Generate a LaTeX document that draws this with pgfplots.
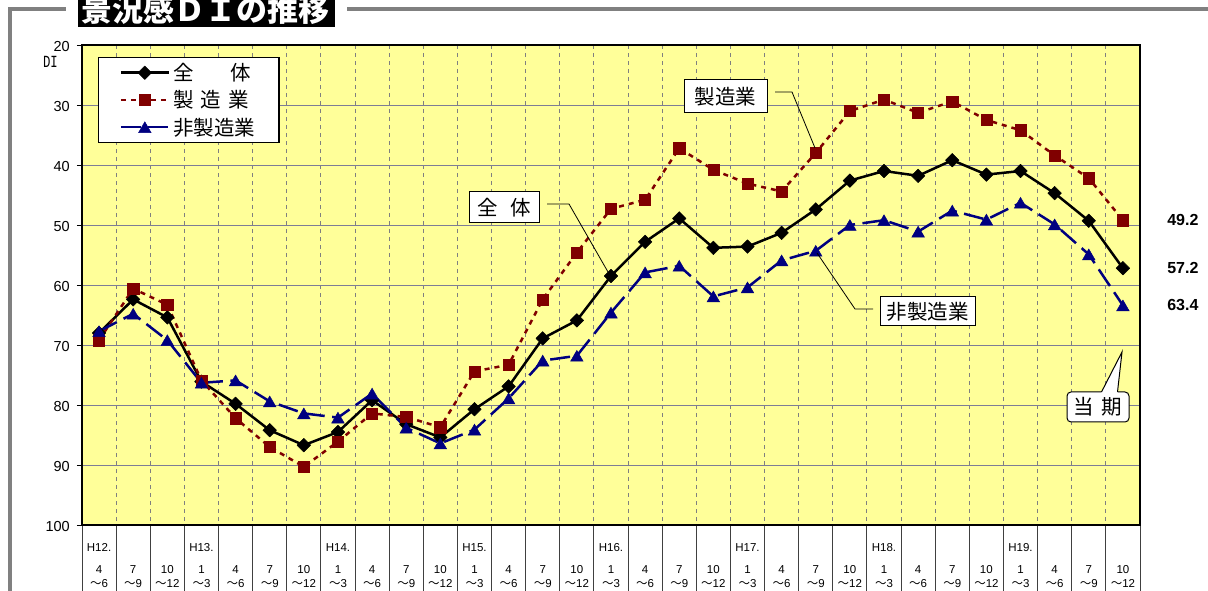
\documentclass[border=0pt]{standalone}
\usepackage{fontspec}
\setmainfont{Liberation Sans}
\newfontfamily\cjk{Noto Sans CJK JP}
\newfontfamily\monof{Liberation Mono}
\usepackage{pgfplots}
\pgfplotsset{compat=1.18}
\definecolor{bgyellow}{RGB}{255,255,153}
\definecolor{mred}{RGB}{128,0,0}
\definecolor{nblue}{RGB}{0,0,128}
\definecolor{gridc}{RGB}{125,125,150}
\definecolor{frameg}{RGB}{128,128,128}
\newcommand\tl[3]{\strut #1\\[8pt]\strut #2\\\strut{\cjk ～}#3}
\newcommand\jp{\cjk\fontsize{20.5}{22}\selectfont}
\begin{document}
\begin{tikzpicture}[x=1pt,y=1pt]
\useasboundingbox (0,0) rectangle (1208,591);
\clip (0,0) rectangle (1208,591);
% outer frame
\draw[frameg, line width=4pt] (8,581.5) -- (66,581.5);
\draw[frameg, line width=4pt] (347,581.5) -- (1212,581.5);
\draw[frameg, line width=4pt] (10,583.5) -- (10,-2);
% title
\fill[black] (78,564) rectangle (335,600);
\node[anchor=base west, inner sep=0pt, text=white, font=\cjk\bfseries\fontsize{31}{31}\selectfont] at (81,569) {景況感ＤＩの推移};
% cell lines below plot
\foreach \k in {0,...,31} \draw[black!75, line width=1pt] ({82+34.129*\k},-1) -- ({82+34.129*\k},66);
% DI label
\node[font=\monof\fontsize{17}{17}\selectfont, inner sep=0pt] at (50.5,529) {\scalebox{0.72}[1]{DI}};
\begin{axis}[
  at={(82pt,66pt)}, anchor=south west,
  scale only axis, width=1058pt, height=480pt,
  clip=false,
  xmin=-0.5, xmax=30.5, ymin=20, ymax=100,
  y dir=reverse,
  axis background/.style={fill=bgyellow},
  axis line style={black, line width=1.3pt},
  ytick={20,30,...,100}, ytick pos=left,
  tick align=outside, major tick length=5pt,
  ytick style={black, line width=1pt},
  ymajorgrids, major grid style={gridc, line width=1pt},
  xtick={0,...,30}, xtick style={draw=none},
  minor xtick={0.5,1.5,...,29.5},
  xminorgrids, minor grid style={frameg, line width=0.9pt, dash pattern=on 4pt off 4pt},
  /pgf/number format/assume math mode=true,
  yticklabel style={font=\fontsize{14.5}{16}\selectfont, inner sep=0pt, anchor=east, xshift=-7pt, yshift=-2pt},
  xticklabel style={anchor=north, align=center, inner sep=0pt, yshift=-11pt, font=\fontsize{11.5}{14}\selectfont},
  xticklabels={{\tl{H12.}{4}{6}},{\tl{}{7}{9}},{\tl{}{10}{12}},
    {\tl{H13.}{1}{3}},{\tl{}{4}{6}},{\tl{}{7}{9}},{\tl{}{10}{12}},
    {\tl{H14.}{1}{3}},{\tl{}{4}{6}},{\tl{}{7}{9}},{\tl{}{10}{12}},
    {\tl{H15.}{1}{3}},{\tl{}{4}{6}},{\tl{}{7}{9}},{\tl{}{10}{12}},
    {\tl{H16.}{1}{3}},{\tl{}{4}{6}},{\tl{}{7}{9}},{\tl{}{10}{12}},
    {\tl{H17.}{1}{3}},{\tl{}{4}{6}},{\tl{}{7}{9}},{\tl{}{10}{12}},
    {\tl{H18.}{1}{3}},{\tl{}{4}{6}},{\tl{}{7}{9}},{\tl{}{10}{12}},
    {\tl{H19.}{1}{3}},{\tl{}{4}{6}},{\tl{}{7}{9}},{\tl{}{10}{12}}},
  legend style={at={(axis description cs:0.0151,0.975)}, anchor=north west,
    draw=black, line width=1.2pt, fill=white,
    inner xsep=21pt, inner ysep=4.75pt, row sep=6.5pt,
    font=\jp, nodes={inner xsep=3pt, inner ysep=1pt}},
  legend cell align=left,
  legend image code/.code={\draw[mark repeat=2,mark phase=2,#1] plot coordinates {(0pt,0pt) (24pt,0pt) (48pt,0pt)};},
]
\addplot[black, line width=2.5pt, line join=round, mark=square*, mark size=4.8pt,
  mark options={solid, rotate=45, line width=0.5pt}] coordinates {
(0,68.0) (1,62.4) (2,65.4) (3,76.1) (4,79.8) (5,84.2) (6,86.7) (7,84.5) (8,79.2) (9,83.2)
(10,85.4) (11,80.7) (12,76.9) (13,68.9) (14,65.9) (15,58.5) (16,52.8) (17,48.9) (18,53.8) (19,53.6)
(20,51.3) (21,47.4) (22,42.6) (23,41.0) (24,41.8) (25,39.2) (26,41.6) (27,41.0) (28,44.7) (29,49.3)
(30,57.2)};
\addlegendentry{全\hspace{1.8em}体}
\addplot[mred, line width=2.5pt, dash pattern=on 5pt off 5pt, mark=square*, mark size=5.6pt,
  mark options={solid, line width=0.5pt}] coordinates {
(0,69.2) (1,60.6) (2,63.3) (3,75.9) (4,82.2) (5,87.0) (6,90.3) (7,86.1) (8,81.4) (9,82.0)
(10,83.7) (11,74.4) (12,73.3) (13,62.4) (14,54.6) (15,47.3) (16,45.8) (17,37.2) (18,40.8) (19,43.1)
(20,44.4) (21,38.0) (22,31.0) (23,29.1) (24,31.3) (25,29.4) (26,32.5) (27,34.2) (28,38.4) (29,42.2)
(30,49.2)};
\addlegendentry{製\hspace{0.35em}造\hspace{0.35em}業}
\addplot[nblue, line width=2.5pt, dash pattern=on 20pt off 7.5pt, mark=triangle*, mark size=7.2pt,
  mark options={solid, line width=0.5pt, yshift=-1.8pt}] coordinates {
(0,67.7) (1,64.8) (2,69.2) (3,76.3) (4,75.9) (5,79.4) (6,81.4) (7,82.1) (8,78.1) (9,83.8)
(10,86.4) (11,84.1) (12,78.9) (13,72.6) (14,71.8) (15,64.6) (16,57.9) (17,56.8) (18,61.9) (19,60.4)
(20,55.9) (21,54.3) (22,50.0) (23,49.2) (24,51.1) (25,47.6) (26,49.1) (27,46.3) (28,49.9) (29,54.9)
(30,63.4)};
\addlegendentry{非製造業}
\node[font=\bfseries\fontsize{16}{18}\selectfont, xshift=60pt] at (axis cs:30,49.2) {49.2};
\node[font=\bfseries\fontsize{16}{18}\selectfont, xshift=60pt] at (axis cs:30,57.2) {57.2};
\node[font=\bfseries\fontsize{16}{18}\selectfont, xshift=60pt] at (axis cs:30,63.4) {63.4};
\end{axis}
% annotations
\draw[black, line width=0.8pt] (775,499) -- (792,499) -- (815,443);
\node[draw, line width=1pt, fill=white, minimum width=83pt, minimum height=33pt, inner sep=0pt, font=\jp] at (725.5,494.5) {製造業};
\draw[black, line width=0.8pt] (547,387) -- (569,387) -- (608,319);
\node[draw, line width=1pt, fill=white, minimum width=70pt, minimum height=31pt, inner sep=0pt, font=\jp] at (504,383.5) {全\hspace{0.63em}体};
\draw[black, line width=0.8pt] (873,282) -- (855,282) -- (817,338);
\node[draw, line width=1pt, fill=white, minimum width=95pt, minimum height=29pt, inner sep=0pt, font=\jp] at (927.5,279.5) {非製造業};
\node[draw, line width=1pt, fill=white, rounded corners=4pt, minimum width=62pt, minimum height=30pt, inner sep=0pt, font=\jp] at (1098,184) {当\hspace{0.35em}期};
\fill[white] (1101.3,198.2) -- (1122,239) -- (1117.7,198.2) -- cycle;
\draw[black, line width=1pt] (1101.5,199) -- (1122,239) -- (1117.5,199);
\end{tikzpicture}
\end{document}
